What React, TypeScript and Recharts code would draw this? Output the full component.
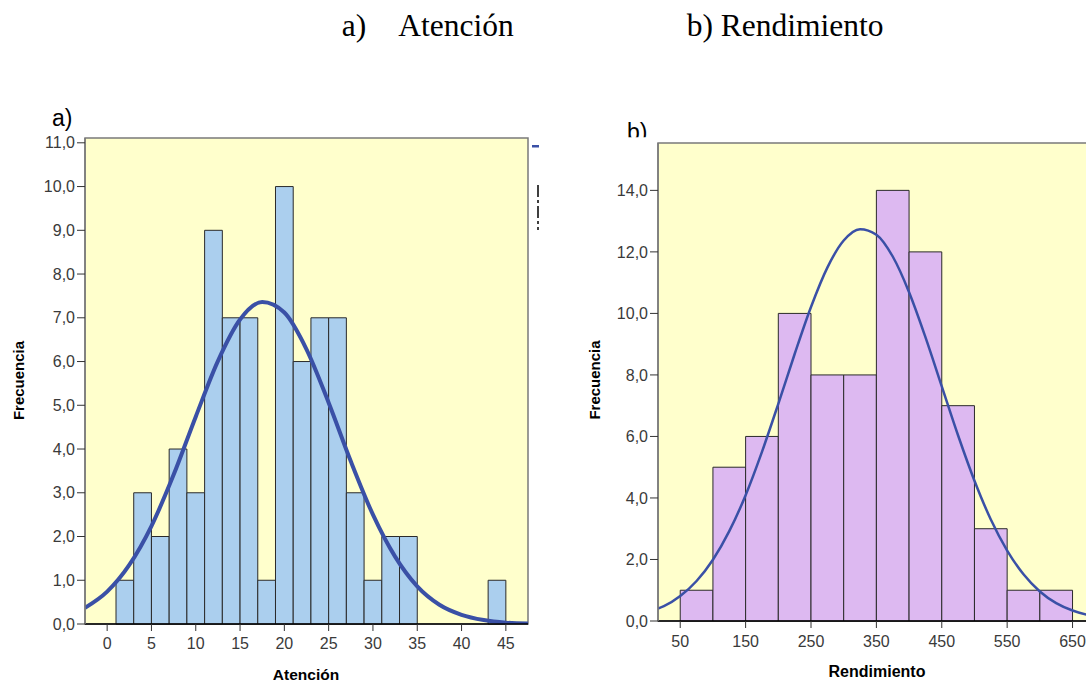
import React from "react";
import { ComposedChart, Line, XAxis, YAxis, ReferenceArea } from "recharts";

// ---- Atención (a) ----
const atencionBinStart = [1, 3, 5, 7, 9, 11, 13, 15, 17, 19, 21, 23, 25, 27, 29, 31, 33, 43];
const atencionCounts = [1, 3, 2, 4, 3, 9, 7, 7, 1, 10, 6, 7, 7, 3, 1, 2, 2, 1];
const atencionBinWidth = 2;
const atencionCurveX = [-2.5, 0, 2.5, 5, 7.5, 10, 12.5, 15, 17.5, 20, 22.5, 25, 27.5, 30, 32.5, 35, 37.5, 40, 42.5, 45, 47.5];
const atencionCurveY = [0.37, 0.74, 1.35, 2.24, 3.41, 4.74, 6.01, 6.96, 7.36, 7.12, 6.28, 5.06, 3.72, 2.5, 1.54, 0.86, 0.44, 0.21, 0.09, 0.03, 0.01];
const atencionXTicks = [0, 5, 10, 15, 20, 25, 30, 35, 40, 45];
const atencionYTicks = [0, 1, 2, 3, 4, 5, 6, 7, 8, 9, 10, 11];
const atencionXDomain = [-2.5, 47.5];
const atencionYDomain = [0, 11.11];

// ---- Rendimiento (b) ----
const rendBinStart = [50, 100, 150, 200, 250, 300, 350, 400, 450, 500, 550, 600];
const rendCounts = [1, 5, 6, 10, 8, 8, 14, 12, 7, 3, 1, 1];
const rendBinWidth = 50;
const rendCurveX = [16, 25, 50, 75, 100, 125, 150, 175, 200, 225, 250, 275, 300, 325, 350, 375, 400, 425, 450, 475, 500, 525, 550, 575, 600, 625, 650, 675, 692];
const rendCurveY = [0.4, 0.48, 0.81, 1.3, 1.99, 2.92, 4.09, 5.5, 7.06, 8.68, 10.21, 11.49, 12.37, 12.74, 12.56, 11.85, 10.69, 9.23, 7.63, 6.03, 4.56, 3.3, 2.29, 1.52, 0.96, 0.58, 0.34, 0.19, 0.12];
const rendXTicks = [50, 150, 250, 350, 450, 550, 650];
const rendYTicks = [0, 2, 4, 6, 8, 10, 12, 14];
const rendXDomain = [16, 692];
const rendYDomain = [0, 15.54];

const BG = "#ffffcc";
const BORDER = "#7a7a7a";
const CURVE = "#3a50a6";
const SANS = "'Liberation Sans', Arial, sans-serif";
const SERIF = "'Liberation Serif', 'Times New Roman', serif";

const fmtY = (v: number) => v.toFixed(1).replace(".", ",");

const tickStyle = { fill: "#3a3a3a", fontSize: 16, fontFamily: SANS };

export default function App() {
  const atencionCurve = atencionCurveX.map((x, i) => ({ x, y: atencionCurveY[i] }));
  const rendCurve = rendCurveX.map((x, i) => ({ x, y: rendCurveY[i] }));

  return (
    <div
      style={{
        position: "absolute",
        left: 0,
        top: 0,
        width: 1086,
        height: 684,
        overflow: "hidden",
        background: "#fff",
      }}
    >
      <div style={{ position: "absolute", left: 0, top: 0 }}>
        <ComposedChart
          width={540}
          height={684}
          data={atencionCurve}
          margin={{ top: 138, right: 12, bottom: 30, left: 0 }}
        >
          <XAxis
            dataKey="x"
            type="number"
            domain={atencionXDomain}
            ticks={atencionXTicks}
            allowDataOverflow
            height={30}
            tick={tickStyle}
            tickSize={7}
            tickMargin={7}
            tickLine={{ stroke: "#333" }}
            axisLine={{ stroke: "#000", strokeWidth: 1.5 }}
          />
          <YAxis
            type="number"
            domain={atencionYDomain}
            ticks={atencionYTicks}
            allowDataOverflow
            width={85}
            tick={tickStyle}
            tickSize={8}
            tickMargin={2}
            tickFormatter={fmtY}
            tickLine={{ stroke: "#333" }}
            axisLine={{ stroke: BORDER, strokeWidth: 1.5 }}
          />
          <ReferenceArea
            x1={atencionXDomain[0]}
            x2={atencionXDomain[1]}
            y1={atencionYDomain[0]}
            y2={atencionYDomain[1]}
            fill={BG}
            fillOpacity={1}
            stroke={BORDER}
            strokeWidth={1.5}
          />
          {atencionBinStart.map((s, i) => (
            <ReferenceArea
              key={"a" + i}
              x1={s}
              x2={s + atencionBinWidth}
              y1={0}
              y2={atencionCounts[i]}
              fill="#abcfee"
              fillOpacity={1}
              stroke="#2a2a2a"
              strokeWidth={1}
            />
          ))}
          <Line
            type="monotone"
            dataKey="y"
            stroke={CURVE}
            strokeWidth={4}
            dot={false}
            activeDot={false}
            isAnimationActive={false}
          />
        </ComposedChart>
      </div>

      <div style={{ position: "absolute", left: 588, top: 0 }}>
        <ComposedChart
          width={512}
          height={684}
          data={rendCurve}
          margin={{ top: 143, right: 0, bottom: 33, left: 0 }}
        >
          <XAxis
            dataKey="x"
            type="number"
            domain={rendXDomain}
            ticks={rendXTicks}
            allowDataOverflow
            height={30}
            tick={tickStyle}
            tickSize={7}
            tickMargin={8}
            tickLine={{ stroke: "#333" }}
            axisLine={{ stroke: "#000", strokeWidth: 1.5 }}
          />
          <YAxis
            type="number"
            domain={rendYDomain}
            ticks={rendYTicks}
            allowDataOverflow
            width={70}
            tick={tickStyle}
            tickSize={8}
            tickMargin={2}
            tickFormatter={fmtY}
            tickLine={{ stroke: "#333" }}
            axisLine={{ stroke: BORDER, strokeWidth: 1.5 }}
          />
          <ReferenceArea
            x1={rendXDomain[0]}
            x2={rendXDomain[1]}
            y1={rendYDomain[0]}
            y2={rendYDomain[1]}
            fill={BG}
            fillOpacity={1}
            stroke={BORDER}
            strokeWidth={1.5}
          />
          {rendBinStart.map((s, i) => (
            <ReferenceArea
              key={"r" + i}
              x1={s}
              x2={s + rendBinWidth}
              y1={0}
              y2={rendCounts[i]}
              fill="#ddb9f1"
              fillOpacity={1}
              stroke="#2a2a2a"
              strokeWidth={1}
            />
          ))}
          <Line
            type="monotone"
            dataKey="y"
            stroke={CURVE}
            strokeWidth={2.5}
            dot={false}
            activeDot={false}
            isAnimationActive={false}
          />
        </ComposedChart>
      </div>

      <svg
        width={1086}
        height={684}
        style={{ position: "absolute", left: 0, top: 0, pointerEvents: "none" }}
      >
        <defs>
          <clipPath id="bclip">
            <rect x={600} y={100} width={100} height={37.3} />
          </clipPath>
        </defs>
        <text x={341.7} y={36} fontFamily={SERIF} fontSize={31.5} fill="#000">a)</text>
        <text x={398.3} y={36} fontFamily={SERIF} fontSize={31.5} fill="#000">Atención</text>
        <text x={686.7} y={36} fontFamily={SERIF} fontSize={31.5} fill="#000">b) Rendimiento</text>

        <text x={52} y={126} fontFamily={SANS} fontSize={23} fill="#000">a)</text>
        <g clipPath="url(#bclip)">
          <text x={627} y={140} fontFamily={SANS} fontSize={23} fill="#000">b)</text>
        </g>

        <rect x={532} y={145} width={7} height={2.5} fill={CURVE} />
        <line x1={538} y1={185} x2={538} y2={230} stroke="#000" strokeWidth={1.5} strokeDasharray="12,3,3,3" />

        <text
          x={18.5}
          y={380.5}
          transform="rotate(-90 18.5 380.5)"
          textAnchor="middle"
          dominantBaseline="central"
          fontFamily={SANS}
          fontWeight="bold"
          fontSize={15}
          fill="#000"
        >
          Frecuencia
        </text>
        <text
          x={594}
          y={380}
          transform="rotate(-90 594 380)"
          textAnchor="middle"
          dominantBaseline="central"
          fontFamily={SANS}
          fontWeight="bold"
          fontSize={15}
          fill="#000"
        >
          Frecuencia
        </text>
        <text x={306} y={680} textAnchor="middle" fontFamily={SANS} fontWeight="bold" fontSize={15.5} fill="#000">
          Atención
        </text>
        <text x={877} y={677} textAnchor="middle" fontFamily={SANS} fontWeight="bold" fontSize={16} fill="#000">
          Rendimiento
        </text>
      </svg>
    </div>
  );
}
